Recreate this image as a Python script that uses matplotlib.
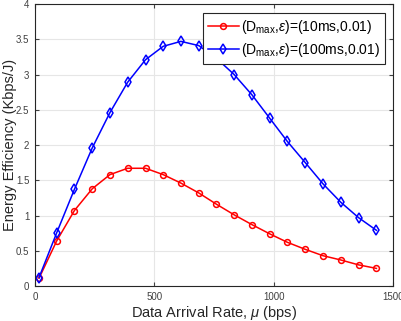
import matplotlib
matplotlib.use("Agg")
import matplotlib.pyplot as plt
from matplotlib.ticker import FuncFormatter

plt.rcParams['font.family'] = ['Liberation Sans', 'DejaVu Sans']
plt.rcParams['mathtext.fontset'] = 'custom'
plt.rcParams['mathtext.rm'] = 'Liberation Sans'
plt.rcParams['mathtext.it'] = 'Liberation Sans:italic'

x_rate = [17, 91, 165, 240, 314, 388, 463, 537, 611, 686,
          760, 834, 909, 983, 1057, 1132, 1206, 1280, 1355, 1430]
ee_10ms = [0.11, 0.64, 1.07, 1.38, 1.58, 1.67, 1.67, 1.58, 1.46, 1.32,
           1.16, 1.01, 0.87, 0.74, 0.62, 0.52, 0.43, 0.37, 0.30, 0.25]
ee_100ms = [0.12, 0.755, 1.37, 1.96, 2.46, 2.89, 3.21, 3.40, 3.47, 3.41,
            3.23, 3.00, 2.71, 2.38, 2.05, 1.75, 1.45, 1.19, 0.97, 0.79]
labels = [r'(D$_{\rm max}$,$\epsilon$)=(10ms,0.01)',
          r'(D$_{\rm max}$,$\epsilon$)=(100ms,0.01)']
x_ticks = [0, 500, 1000, 1500]
y_ticks = [0, 0.5, 1, 1.5, 2, 2.5, 3, 3.5, 4]

fig = plt.figure(figsize=(4.02, 3.21), dpi=100)
ax = fig.add_axes([0.087, 0.109, 0.891, 0.8785])

ax.plot(x_rate, ee_10ms, color='#ff0000', marker='o', markersize=4.2,
        markerfacecolor='none', markeredgewidth=1.1, linewidth=1.1, label=labels[0])
ax.plot(x_rate, ee_100ms, color='#0000ff', marker='d', markersize=4.8,
        markerfacecolor='none', markeredgewidth=1.1, linewidth=1.1, label=labels[1])

ax.set_xlim(0, 1500)
ax.set_ylim(0, 4)
ax.set_xticks(x_ticks)
ax.set_yticks(y_ticks)
ax.yaxis.set_major_formatter(FuncFormatter(lambda v, p: ('%g' % v)))
ax.grid(True, color='#e6e6e6', linewidth=0.8)
ax.set_axisbelow(True)
ax.tick_params(direction='in', top=True, right=True, labelsize=7,
               colors='#404040', length=3, width=0.8, pad=4)
for s in ax.spines.values():
    s.set_color('#262626')
    s.set_linewidth(0.8)

ax.set_xlabel(r'Data Arrival Rate, $\mu$ (bps)', fontsize=10.5, color='#262626', labelpad=2)
ax.set_ylabel('Energy Efficiency (Kbps/J)', fontsize=10.5, color='#262626')
ax.yaxis.set_label_coords(-0.05, 0.5)

leg = ax.legend(loc='upper right', bbox_to_anchor=(0.978, 0.968), borderaxespad=0,
                fontsize=10, fancybox=False, framealpha=1,
                edgecolor='#262626', borderpad=0.35, labelspacing=0.35,
                handlelength=2.2, handletextpad=0.2)
leg.get_frame().set_linewidth(0.8)

fig.savefig('out.png', dpi=100)
